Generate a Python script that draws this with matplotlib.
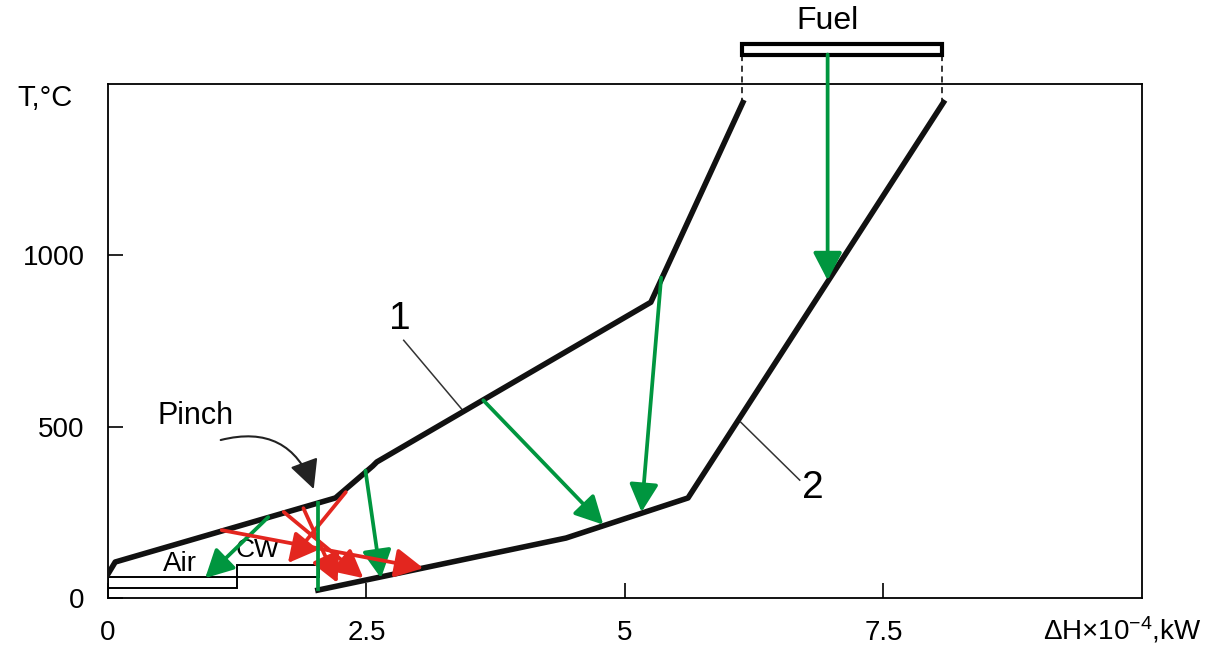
import matplotlib
matplotlib.use("Agg")
import matplotlib.pyplot as plt
from matplotlib.patches import Rectangle

plt.rcParams["font.family"] = ["Liberation Sans", "DejaVu Sans"]
plt.rcParams["mathtext.fontset"] = "custom"
plt.rcParams["mathtext.rm"] = "Liberation Sans"
plt.rcParams["mathtext.it"] = "Liberation Sans"

# hot composite curve (1) and cold composite curve (2): dH x 1e-4 kW, T degC
hot_dh = [0.0, 0.07, 2.20, 2.56, 2.60, 5.25, 6.14]
hot_t = [70, 105, 292, 385, 397, 863, 1446]
cold_dh = [2.03, 4.43, 5.61, 8.08]
cold_t = [23, 175, 292, 1446]

# heat transfer arrows: (dh_start, t_start, dh_end, t_end)
green_arrows = [
    (6.96, 1586, 6.96, 927),
    (5.35, 935, 5.16, 251),
    (3.63, 577, 4.79, 214),
    (2.49, 372, 2.64, 58),
    (1.55, 236, 0.94, 58),
]
green_lines = [(2.03, 277, 2.03, 27)]
red_arrows = [
    (1.10, 198, 3.05, 87),
    (2.30, 309, 1.74, 102),
    (1.70, 251, 2.47, 58),
    (1.89, 262, 2.22, 44),
]

# utilities: (dh_left, dh_right, t_bottom, t_top)
air = (0.0, 1.25, 29, 61)
cw = (1.25, 2.04, 61, 96)
fuel = (6.13, 8.07, 1586, 1618)

xticks = [0, 2.5, 5, 7.5]
xticklabels = ["0", "2.5", "5", "7.5"]
yticks = [0, 500, 1000]
yticklabels = ["0", "500", "1000"]

GREEN = "#00963f"
RED = "#e3261f"

fig = plt.figure(figsize=(12.12, 6.5), dpi=100)
ax = fig.add_axes([0.0891, 0.08, 0.8531, 0.7908])
ax.set_xlim(0, 10)
ax.set_ylim(0, 1500)

for s in ax.spines.values():
    s.set_linewidth(1.3)

ax.set_xticks(xticks)
ax.set_xticklabels(xticklabels)
ax.set_yticks(yticks)
ax.set_yticklabels(yticklabels)
ax.tick_params(direction="in", length=11, width=1.2, labelsize=20)
ax.tick_params(axis="x", pad=16)
ax.tick_params(axis="y", pad=17)

# utility boxes
for x0, x1, y0, y1 in (air, cw):
    ax.add_patch(Rectangle((x0, y0), x1 - x0, y1 - y0, fill=False,
                           ec="black", lw=1.4, zorder=2))
x0, x1, y0, y1 = fuel
ax.add_patch(Rectangle((x0, y0), x1 - x0, y1 - y0, fc="white", ec="black",
                       lw=3, clip_on=False, zorder=3))
for xd in (x0, x1):
    ax.plot([xd, xd], [y0, 1450], color="black", lw=1.1, ls=(0, (4, 3)),
            clip_on=False)

# composite curves
ax.plot(hot_dh, hot_t, color="#111111", lw=4, solid_joinstyle="round", zorder=4)
ax.plot(cold_dh, cold_t, color="#111111", lw=4, solid_joinstyle="round", zorder=4)


def arrow(x0, y0, x1, y1, color):
    ax.annotate("", xy=(x1, y1), xytext=(x0, y0), annotation_clip=False,
                arrowprops=dict(arrowstyle="-|>,head_length=0.5,head_width=0.26",
                                mutation_scale=34, color=color, lw=2.7,
                                shrinkA=0, shrinkB=0), zorder=5)


for a in green_arrows:
    arrow(*a, GREEN)
for a in red_arrows:
    arrow(*a, RED)
for x0, y0, x1, y1 in green_lines:
    ax.plot([x0, x1], [y0, y1], color=GREEN, lw=2.7, zorder=5)

# labels
ax.text(0.70, 98, "Air", fontsize=20, ha="center", va="center")
ax.text(1.45, 139, "CW", fontsize=19, ha="center", va="center")
ax.text(6.96, 1685, "Fuel", fontsize=23, ha="center", va="center", clip_on=False)
ax.text(0.85, 530, "Pinch", fontsize=22, ha="center", va="center")
ax.annotate("", xy=(1.99, 318), xytext=(1.09, 461),
            arrowprops=dict(arrowstyle="-|>,head_length=0.6,head_width=0.3",
                            mutation_scale=30, color="#222222", lw=1.5,
                            connectionstyle="arc3,rad=-0.45",
                            shrinkA=0, shrinkB=0))
ax.text(2.82, 813, "1", fontsize=28, ha="center", va="center")
ax.plot([2.86, 3.43], [752, 548], color="#333333", lw=1.1)
ax.text(6.82, 321, "2", fontsize=28, ha="center", va="center")
ax.plot([6.12, 6.69], [513, 344], color="#333333", lw=1.1)

ax.text(-0.61, 1458, "T,°C", fontsize=21, ha="center", va="center", clip_on=False)
ax.text(10.58, -93, r"ΔH×10$^{-4}$,kW", fontsize=20, ha="right", va="center",
        clip_on=False)

fig.savefig("out.png", dpi=100)
